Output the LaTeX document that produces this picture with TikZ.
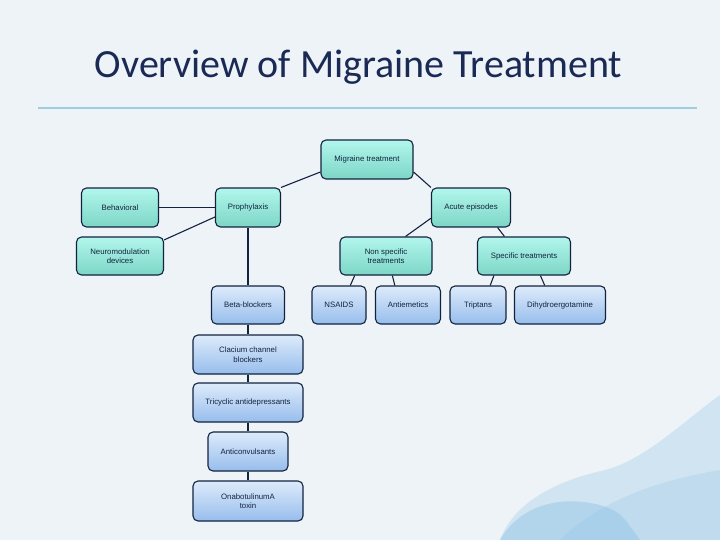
\documentclass[tikz,border=0pt]{standalone}
\usepackage{fontspec}
\setmainfont{Liberation Sans}
\newfontfamily\titlefont{Carlito}
\usepackage{tikz}
\usetikzlibrary{positioning}
\definecolor{bgpale}{HTML}{EEF3F7}
\definecolor{navy}{HTML}{13233F}
\definecolor{titleblue}{HTML}{1A2A55}
\definecolor{rulecol}{HTML}{9ECDE0}
\definecolor{tealtop}{HTML}{B2F6EC}
\definecolor{tealbot}{HTML}{7CD6C6}
\definecolor{bluetop}{HTML}{DDEBFB}
\definecolor{bluebot}{HTML}{97BDEC}
\definecolor{splash}{HTML}{8FC3E6}

\begin{document}
\begin{tikzpicture}[x=1pt,y=-1pt,
  box/.style={draw=navy,line width=1.1pt,rounded corners=5pt,align=center,
    font=\fontsize{7.8}{9.5}\selectfont,text=navy,inner sep=2pt,minimum height=39pt},
  tealbox/.style={box,top color=tealtop,bottom color=tealbot},
  bluebox/.style={box,top color=bluetop,bottom color=bluebot},
  link/.style={navy,line width=1.1pt}]
% background and watercolour corner
\fill[bgpale] (0,0) rectangle (720,540);
\fill[splash,opacity=0.30] (500,540) .. controls (515,500) and (560,480) .. (605,470)
  .. controls (645,460) and (685,420) .. (720,395) -- (720,540) -- cycle;
\fill[splash,opacity=0.45] (500,540) .. controls (520,505) and (560,495) .. (600,505)
  .. controls (620,512) .. (640,540) -- cycle;
\fill[splash,opacity=0.25] (560,540) .. controls (600,500) and (660,480) .. (720,470) -- (720,540) -- cycle;
\node[text=titleblue,anchor=base] (title) at (358.5,78) {\titlefont\fontsize{40}{46}\selectfont Overview of Migraine Treatment};
\draw[rulecol,line width=1.3pt] (38,108) -- (697,108);

% first levels
\node[tealbox,minimum width=92pt] (mig) at (367,159.5) {Migraine treatment};
\node[tealbox,minimum width=77pt] (beh) at (120,207.5) {Behavioral};
\node[tealbox,minimum width=65pt] (pro) at (248,207.5) {Prophylaxis};
\node[tealbox,minimum width=79pt] (acu) at (471,207.5) {Acute episodes};
\node[tealbox,minimum width=87pt,minimum height=38pt] (neu) at (120,256) {Neuromodulation\\devices};
\node[tealbox,minimum width=92pt,minimum height=38pt] (nsp) at (386,256) {Non specific\\treatments};
\node[tealbox,minimum width=93pt,minimum height=38pt] (spe) at (524,256) {Specific treatments};

% drugs
\node[bluebox,minimum width=73pt,minimum height=38pt] (bet) at (248,305) {Beta-blockers};
\node[bluebox,minimum width=54pt,minimum height=38pt] (nsa) at (339,305) {NSAIDS};
\node[bluebox,minimum width=65pt,minimum height=38pt] (ant) at (408,305) {Antiemetics};
\node[bluebox,minimum width=56pt,minimum height=38pt] (tri) at (478,305) {Triptans};
\node[bluebox,minimum width=91pt,minimum height=38pt] (dih) at (560,305) {Dihydroergotamine};
\node[bluebox,minimum width=110pt] (cal) at (248,354.5) {Clacium channel\\blockers};
\node[bluebox,minimum width=110pt] (tcy) at (248,402.5) {Tricyclic antidepressants};
\node[bluebox,minimum width=80pt] (acv) at (248,451.5) {Anticonvulsants};
\node[bluebox,minimum width=110pt,minimum height=40pt] (ona) at (248,501) {OnabotulinumA\\toxin};

\draw[link] (mig.195) -- (pro.north east);
\draw[link] (mig.-15) -- (acu.north west);
\draw[link] (beh.east) -- (pro.west);
\draw[link] (neu.20) -- (pro.196);
\draw[link] (pro.south) -- (bet.north);
\draw[link] (acu.195) -- (nsp.45);
\draw[link] (acu.-37) -- (spe.135);
\draw[link] (nsp.-148) -- (nsa.60);
\draw[link] (nsp.-72) -- (ant.124);
\draw[link] (spe.-147) -- (tri.58);
\draw[link] (spe.-50) -- (dih.128);
\draw[link] (bet.south) -- (cal.north);
\draw[link] (cal.south) -- (tcy.north);
\draw[link] (tcy.south) -- (acv.north);
\draw[link] (acv.south) -- (ona.north);
\end{tikzpicture}
\end{document}
